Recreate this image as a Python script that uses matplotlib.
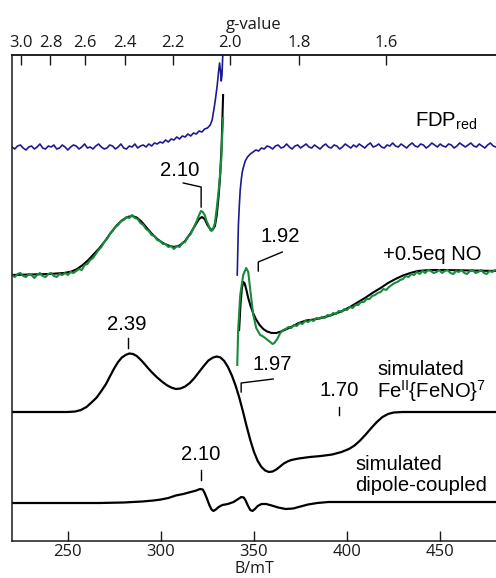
import numpy as np
import matplotlib
matplotlib.use("Agg")
import matplotlib.pyplot as plt

NAN = np.nan

# ---------------- data (B in mT, intensity in arbitrary units incl. offset) -------------
fdp_red = [
    (220, 394), (221.5, 392), (223, 395), (224.5, 396), (226, 393), (227.5, 391), (229, 394),
    (230.5, 395), (232, 392), (233.5, 394), (235, 397), (236.5, 393), (238, 392), (239.5, 395),
    (241, 394), (242.5, 396), (244, 392), (245.5, 393), (247, 396), (248.5, 394), (250, 391),
    (251.5, 394), (253, 396), (254.5, 395), (256, 392), (257.5, 394), (259, 397), (260.5, 393),
    (262, 394), (263.5, 392), (265, 395), (266.5, 397), (268, 394), (269.5, 392), (271, 393),
    (272.5, 396), (274, 395), (275.5, 392), (277, 394), (278.5, 397), (280, 393), (281.5, 392),
    (283, 395), (284.5, 394), (286, 397), (287.5, 393), (289, 395), (290.5, 396), (292, 394),
    (293.5, 397), (295, 395), (296.5, 398), (298, 397), (299.5, 399), (301, 398), (302.5, 401),
    (304, 399), (305.5, 402), (307, 401), (308.5, 404), (310, 402), (311.5, 405), (313, 404),
    (314.5, 407), (316, 405), (317.5, 408), (319, 407), (320.5, 410), (322, 409), (323.5, 412),
    (325, 413), (326.5, 416), (327.5, 421), (328.5, 432), (329.3, 442), (330.2, 455),
    (330.9, 468), (331.5, 478), (332.0, 470), (332.4, 460), (332.8, 466), (333.2, 485),
    (333.6, 510), (NAN, NAN),
    (341.0, 266), (341.3, 290), (341.6, 315), (342.1, 335), (342.6, 351), (343.2, 362),
    (343.7, 369), (344.5, 375), (345.3, 380), (346.5, 384), (348.0, 387), (349.5, 389),
    (351, 391), (352.5, 390), (354, 393), (355.5, 392), (357, 395), (358.5, 394), (360, 392),
    (361.5, 395), (363, 396), (364.5, 393), (366, 394), (367.5, 397), (369, 394), (370.5, 392),
    (372, 395), (373.5, 396), (375, 393), (376.5, 395), (378, 397), (379.5, 394), (381, 393),
    (382.5, 396), (384, 394), (385.5, 392), (387, 395), (388.5, 397), (390, 394), (391.5, 393),
    (393, 396), (394.5, 395), (396, 392), (397.5, 394), (399, 397), (400.5, 395), (402, 393),
    (403.5, 396), (405, 394), (406.5, 397), (408, 395), (409.5, 393), (411, 396), (412.5, 398),
    (414, 394), (415.5, 395), (417, 397), (418.5, 394), (420, 393), (421.5, 396), (423, 395),
    (424.5, 398), (426, 395), (427.5, 394), (429, 397), (430.5, 395), (432, 393), (433.5, 396),
    (435, 398), (436.5, 395), (438, 394), (439.5, 397), (441, 396), (442.5, 393), (444, 395),
    (445.5, 398), (447, 396), (448.5, 394), (450, 397), (451.5, 395), (453, 394), (454.5, 397),
    (456, 396), (457.5, 393), (459, 395), (460.5, 398), (462, 396), (463.5, 394), (465, 396),
    (466.5, 398), (468, 395), (469.5, 394), (471, 397), (472.5, 395), (474, 393), (475.5, 396),
    (477, 398), (478.5, 395), (480, 394), (481, 396),
]

no_exp = [
    (220.0, 266), (221.5, 264), (223, 267), (224.5, 268), (226, 265), (227.5, 264), (229, 267),
    (230.5, 266), (232, 263), (233.5, 266), (235, 268), (236.5, 265), (238, 264), (239.5, 267),
    (241, 268), (242.5, 265), (244, 264), (245.5, 267), (247, 266), (248.5, 268), (250, 266),
    (251.5, 269), (253, 268), (254.5, 270), (256, 272), (257.5, 271), (259, 276), (260.5, 277),
    (262, 281), (263.5, 283), (265, 287), (266.5, 291), (268, 294), (269.5, 299), (271, 302),
    (272.5, 307), (274, 310), (275.5, 314), (277, 316), (278.5, 320), (280, 321), (281.5, 324),
    (283, 323), (284.5, 326), (286, 323), (287.5, 322), (289, 318), (290.5, 316), (292, 312),
    (293.5, 310), (295, 306), (296.5, 305), (298, 301), (299.5, 300), (301, 297), (302.5, 297),
    (304, 294), (305.5, 295), (307, 292), (308.5, 295), (310, 294), (311.5, 298), (313, 299),
    (314.5, 304), (316, 307), (317.5, 313), (319, 319), (320.5, 326), (321.5, 330), (322.5, 329),
    (323.5, 326), (324.5, 320), (325.5, 316), (326.5, 311), (327.3, 310), (328.2, 313),
    (329, 318), (330, 333), (331, 350), (331.8, 368), (332.4, 381), (332.9, 405), (333.4, 423),
    (NAN, NAN),
    (341.0, 176), (341.5, 211), (342.6, 246), (344.2, 266), (345.8, 273), (346.9, 269),
    (348.0, 251), (349.6, 226), (351.2, 213), (353.3, 206), (354.5, 205), (356.0, 203),
    (357.3, 201), (358.7, 199), (360.0, 197), (360.9, 198), (362.5, 202), (364.1, 208),
    (365.7, 211), (367, 212), (368.5, 214), (370, 213), (371.5, 216), (373, 215), (374.5, 218),
    (376, 217), (377.5, 220), (379, 219), (380.5, 221), (382, 220), (383.5, 223), (385, 222),
    (386.5, 224), (388, 223), (389.5, 226), (391, 225), (392.5, 228), (394, 227), (395.5, 230),
    (397, 229), (398.5, 232), (400, 231), (401.5, 234), (403, 233), (404.5, 236), (406, 236),
    (407.5, 239), (409, 239), (410.5, 242), (412, 242), (413.5, 245), (415, 246), (416.5, 248),
    (418, 249), (419.5, 252), (421, 251), (422.5, 254), (424, 256), (425.5, 258), (427, 259),
    (428.5, 261), (430, 262), (431.5, 265), (433, 264), (434.5, 267), (436, 266), (437.5, 269),
    (439, 267), (440.5, 270), (442, 268), (443.5, 271), (445, 270), (446.5, 268), (448, 269),
    (449.5, 271), (451, 268), (452.5, 270), (454, 271), (455.5, 268), (457, 267), (458.5, 270),
    (460, 269), (461.5, 271), (463, 268), (464.5, 267), (466, 270), (467.5, 271), (469, 268),
    (470.5, 269), (472, 271), (473.5, 268), (475, 267), (476.5, 270), (478, 269), (479.5, 271),
    (481, 269),
]

no_sim = [
    (220, 266), (240, 267), (248, 268), (252, 269.5), (255, 272), (258, 276), (261, 281),
    (264, 287), (267, 293), (270, 300), (273, 308), (276, 315), (279, 320.5), (282, 324),
    (284.5, 325), (287, 323.5), (289.5, 319.5), (292, 314), (295, 307.5), (298, 302),
    (301, 298), (304, 295.5), (307, 294), (310, 295.5), (313, 300), (316, 308), (318.5, 316),
    (320.5, 322), (322, 324), (323.5, 322), (325, 316), (326.5, 312), (327.7, 311), (329, 315),
    (330, 326), (331, 345), (331.8, 365), (332.6, 395), (333.4, 446), (NAN, NAN),
    (342.0, 211), (342.8, 238), (343.5, 253), (344.2, 259), (344.9, 258), (345.8, 252),
    (346.9, 243), (348, 236), (349.5, 228), (351, 222), (353, 216), (355, 212), (357, 209.5),
    (359.5, 208), (362, 208), (364.5, 209.5), (367, 211.5), (370, 214), (374, 218),
    (378, 220.5), (382, 221.5), (386, 223), (390, 225), (394, 227.5), (398, 230.5),
    (402, 234.5), (406, 239), (410, 243.5), (414, 248.5), (418, 253), (422, 258), (426, 262),
    (430, 265.5), (434, 268), (438, 270), (444, 271), (452, 271), (481, 270),
]

fe_feno_sim = [
    (220, 129), (250, 129), (254, 129.5), (257, 131), (260, 134), (263, 139), (265.5, 143.5),
    (268, 150), (270.5, 157), (273, 166), (275, 173), (277, 179), (279, 183.5), (281, 186),
    (283, 187.5), (285, 187), (287, 185), (289, 181.5), (291, 177.5), (293, 173), (295.5, 168),
    (298, 163.5), (300.5, 159.5), (303, 156), (305.5, 153.5), (308, 152), (310.5, 152.5),
    (313, 154.5), (315.5, 158), (318, 163), (320.5, 169), (323, 175), (325.5, 180.5),
    (328, 183.5), (330, 184.5), (332, 183.5), (334, 180), (336, 174), (338, 166), (340, 156),
    (342, 144), (344, 130), (346, 115), (348, 101), (350, 89), (352, 80), (354, 74),
    (356, 70.5), (358, 69), (360, 69.5), (362, 71.5), (364, 74.5), (366, 77.5), (368, 79.5),
    (370, 81), (374, 82.5), (380, 84), (386, 85), (392, 86.5), (397, 89), (401, 92),
    (404, 95.5), (407, 100.5), (410, 106.5), (413, 113), (416, 119), (419, 124), (422, 127),
    (425, 128.5), (430, 129), (481, 129),
]

dipole_sim = [
    (220, 38), (267, 38), (280, 38.5), (290, 39.5), (296, 40.5), (300, 41.5), (304, 43),
    (308, 45.5), (312, 47), (316, 49), (319, 50.5), (321, 52), (322.5, 51.5), (323.5, 48),
    (324.8, 42), (326, 36), (327.2, 31.5), (328.2, 30), (329.5, 31.5), (331, 34), (333, 36),
    (336, 37), (339, 39), (341.5, 42), (343.2, 44), (344.5, 43.5), (345.5, 40.5),
    (346.7, 35.5), (348, 31), (349.2, 30), (350.5, 32), (352, 35), (354, 37), (356.5, 37),
    (359.5, 35.5), (363, 33.5), (367, 32), (371, 32.5), (375, 34.5), (379, 36.5), (384, 38),
    (390, 39), (481, 39),
]

bottom_ticks = [250, 300, 350, 400, 450]
g_ticks = [3.0, 2.8, 2.6, 2.4, 2.2, 2.0, 1.8, 1.6]
MW_FREQ_GHZ = 9.43            # microwave frequency used for the g-scale
K_G = 71.4477 * MW_FREQ_GHZ    # g * B[mT]

# annotations: label, text position (B, y), marker path (B, y)
ann_210_top = dict(text="2.10", pos=(310.3, 371), path=[(312.0, 358), (321.6, 354), (321.6, 334)])
ann_192 = dict(text="1.92", pos=(364.1, 304), path=[(352.3, 270), (352.3, 279), (365.2, 289)])
ann_239 = dict(text="2.39", pos=(281.8, 216), path=[(282.4, 203), (282.4, 193)])
ann_197 = dict(text="1.97", pos=(359.8, 176), path=[(343.1, 149), (343.1, 158), (360.3, 162)])
ann_170 = dict(text="1.70", pos=(395.8, 150), path=[(395.8, 134), (395.8, 126)])
ann_210_low = dict(text="2.10", pos=(321.1, 86), path=[(321.6, 71), (321.6, 61)])

# ---------------- style ----------------
plt.rcParams["mathtext.fontset"] = "custom"
plt.rcParams["mathtext.rm"] = "Liberation Sans"
plt.rcParams["mathtext.it"] = "Liberation Sans:italic"
plt.rcParams["mathtext.bf"] = "Liberation Sans:bold"

TICK_FONT = dict(family="Open Sans", size=12)
ANN_FONT = dict(family="Liberation Sans", size=14.6)
BLUE = "#1b1b8f"
GREEN = "#178a3c"
AX_COLOR = "#1a1a1a"

fig = plt.figure(figsize=(4.96, 5.78), dpi=100)
ax = fig.add_axes([12 / 496, 37 / 578, 484 / 496, 486 / 578])
ax.set_xlim(220, 480)
ax.set_ylim(0, 486)


def xy(pairs):
    a = np.array(pairs, dtype=float)
    return a[:, 0], a[:, 1]


ax.plot(*xy(fdp_red), color=BLUE, lw=1.2)
ax.plot(*xy(no_sim), color="black", lw=1.5)
ax.plot(*xy(no_exp), color=GREEN, lw=1.5)
ax.plot(*xy(fe_feno_sim), color="black", lw=1.6)
ax.plot(*xy(dipole_sim), color="black", lw=1.6)

for a in (ann_210_top, ann_192, ann_239, ann_197, ann_170, ann_210_low):
    px, py = xy(a["path"])
    ax.plot(px, py, color="black", lw=1.0)
    ax.text(a["pos"][0], a["pos"][1], a["text"], ha="center", va="center", **ANN_FONT)

ax.text(436.7, 414, r"FDP$_{\mathrm{red}}$", ha="left", va="baseline", **ANN_FONT)
ax.text(419.5, 281, "+0.5eq NO", ha="left", va="baseline", **ANN_FONT)
ax.text(416.2, 166, "simulated", ha="left", va="baseline", **ANN_FONT)
ax.text(416.2, 143, r"Fe$^{\mathrm{II}}${FeNO}$^{7}$", ha="left", va="baseline", **ANN_FONT)
ax.text(404.4, 71, "simulated", ha="left", va="baseline", **ANN_FONT)
ax.text(404.4, 50, "dipole-coupled", ha="left", va="baseline", **ANN_FONT)

# axes styling
ax.spines["right"].set_visible(False)
for s in ("left", "bottom", "top"):
    ax.spines[s].set_linewidth(1.1)
    ax.spines[s].set_color(AX_COLOR)
ax.set_yticks([])
ax.set_xticks(bottom_ticks)
ax.set_xticklabels([str(t) for t in bottom_ticks], **TICK_FONT)
ax.tick_params(axis="x", direction="in", length=7, width=1.0, pad=2.5, colors=AX_COLOR)
ax.set_xlabel("B/mT", labelpad=0.5, color=AX_COLOR, family="Open Sans", size=11.5)


def b2g(b):
    b = np.asarray(b, dtype=float)
    return K_G / np.clip(b, 1e-6, None)


def g2b(g):
    g = np.asarray(g, dtype=float)
    return K_G / np.clip(g, 1e-6, None)


sec = ax.secondary_xaxis("top", functions=(b2g, g2b))
sec.set_xticks(g_ticks)
sec.set_xticklabels([f"{g:.1f}" for g in g_ticks], **TICK_FONT)
sec.tick_params(axis="x", direction="in", length=7, width=1.0, pad=3, colors=AX_COLOR)
sec.spines["top"].set_linewidth(1.1)
sec.spines["top"].set_color(AX_COLOR)
sec.set_xlabel("g-value", labelpad=4, color=AX_COLOR, **TICK_FONT)

fig.savefig("out.png", dpi=100)
